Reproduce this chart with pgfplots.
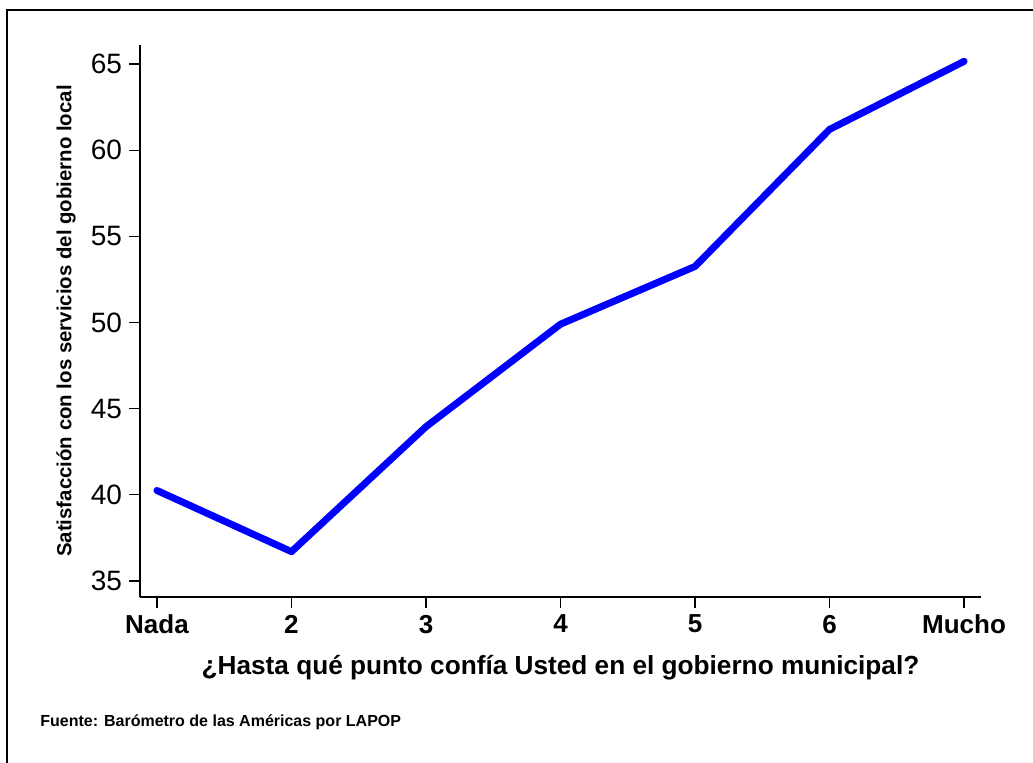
\documentclass[border=0pt]{standalone}
\usepackage{pgfplots}
\pgfplotsset{compat=1.18}
\usepackage{fontspec}
\setmainfont{Liberation Sans}

\definecolor{lineblue}{RGB}{0,0,255}

\begin{document}
\begin{tikzpicture}
  % picture is 1033 x 763 px, 1 px = 0.5pt
  \useasboundingbox (0,0) rectangle (516.5pt,381.5pt);
  \draw[line width=1pt] (3.5pt,0pt) -- (3.5pt,376.5pt) -- (516.5pt,376.5pt);

  \begin{axis}[
      at={(70pt,83pt)}, anchor=south west,
      scale only axis,
      width=420.5pt, height=276pt,
      xmin=0.874, xmax=7.126,
      ymin=34.07, ymax=66.1,
      axis x line*=bottom, axis y line*=left,
      axis line style={line width=0.6pt},
      tick align=outside,
      major tick length=5.5pt,
      tick style={black, line width=0.6pt},
      xtick={1,2,3,4,5,6,7},
      xticklabels={Nada,2,3,4,5,6,Mucho},
      ytick={35,40,45,50,55,60,65},
      xticklabel style={font=\fontsize{13}{15}\selectfont\bfseries},
      yticklabel style={font=\fontsize{14}{16}\selectfont},
      /pgf/number format/assume math mode=true,
      xlabel={¿Hasta qué punto confía Usted en el gobierno municipal?},
      xlabel style={font=\fontsize{13.1}{15}\selectfont\bfseries,
        at={(axis description cs:0.5,-0.1286)}, anchor=center},
      ylabel={Satisfacción con los servicios del gobierno local},
      ylabel style={font=\fontsize{10.2}{12}\selectfont\bfseries,
        at={(axis description cs:-0.088,0.5)}, anchor=center},
      clip=false,
    ]
    \addplot[lineblue, line width=3.5pt, line cap=round, line join=round]
      coordinates {
        (1, 40.25)
        (2, 36.7)
        (3, 43.95)
        (4, 49.9)
        (5, 53.25)
        (6, 61.2)
        (7, 65.15)
      };
  \end{axis}

  \node[anchor=west, inner sep=0pt, font=\fontsize{8}{10}\selectfont\bfseries]
    at (20pt,20.5pt) {Fuente: Barómetro de las Américas por LAPOP};
\end{tikzpicture}
\end{document}
